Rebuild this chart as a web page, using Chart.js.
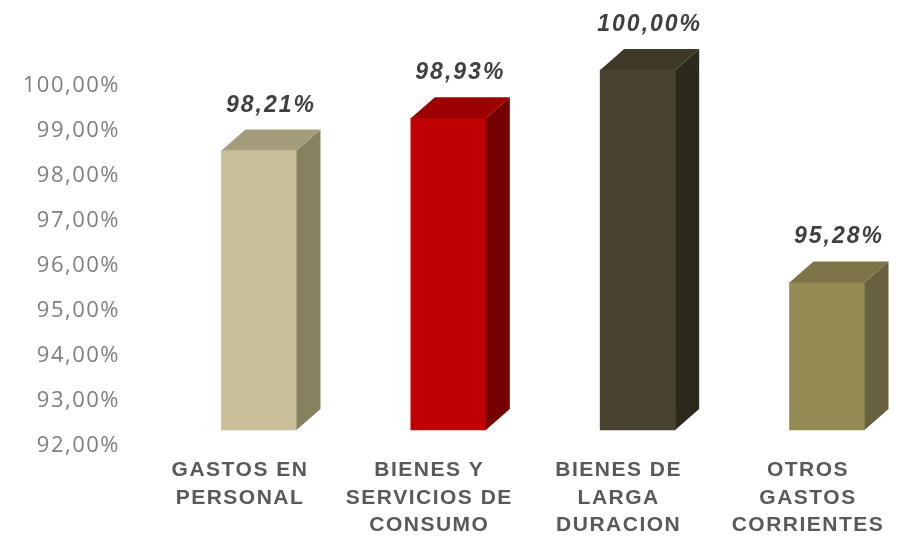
<!DOCTYPE html>
<html>
<head>
<meta charset="utf-8">
<script src="https://cdn.jsdelivr.net/npm/chart.js@4.4.1/dist/chart.umd.min.js"></script>
<style>
  html, body { margin: 0; padding: 0; background: #fff; }
</style>
</head>
<body>
<canvas id="grafico" width="898" height="537"></canvas>
<script>
// datos
const categorias = [
  ["GASTOS EN", "PERSONAL"],
  ["BIENES Y", "SERVICIOS DE", "CONSUMO"],
  ["BIENES DE", "LARGA", "DURACION"],
  ["OTROS", "GASTOS", "CORRIENTES"]
];
const ejecucion = [98.21, 98.93, 100.00, 95.28];
const etiquetasValor = ["98,21%", "98,93%", "100,00%", "95,28%"];
const ticksY = [92, 93, 94, 95, 96, 97, 98, 99, 100];

// colores: frente, techo, costado
const colorFrente = ["#c8bf9a", "#c00000", "#4a4331", "#958b55"];
const colorTecho = ["#a39d7c", "#9c0000", "#3d3827", "#7d7548"];
const colorCostado = ["#86815f", "#760000", "#2d2a1d", "#686140"];

const fondo = 24, alto3d = 21;

// texto algo espaciado, como en la imagen original
const espaciado = {
  id: "espaciado",
  beforeDraw(chart) { chart.ctx.letterSpacing = "1.5px"; },
  beforeDatasetsDraw(chart) { chart.ctx.letterSpacing = "0px"; }
};

// dibuja los costados y techos para el efecto 3D
const efecto3d = {
  id: "efecto3d",
  afterDatasetsDraw(chart) {
    const ctx = chart.ctx;
    const meta = chart.getDatasetMeta(0);
    meta.data.forEach((bar, i) => {
      const p = bar.getProps(["x", "y", "base", "width"], true);
      const izq = p.x - p.width / 2, der = p.x + p.width / 2;
      ctx.save();
      // costado
      ctx.fillStyle = colorCostado[i];
      ctx.beginPath();
      ctx.moveTo(der, p.y);
      ctx.lineTo(der + fondo, p.y - alto3d);
      ctx.lineTo(der + fondo, p.base - alto3d);
      ctx.lineTo(der, p.base);
      ctx.closePath();
      ctx.fill();
      // techo
      ctx.fillStyle = colorTecho[i];
      ctx.beginPath();
      ctx.moveTo(izq, p.y);
      ctx.lineTo(izq + fondo, p.y - alto3d);
      ctx.lineTo(der + fondo, p.y - alto3d);
      ctx.lineTo(der, p.y);
      ctx.closePath();
      ctx.fill();
      // etiqueta de valor
      ctx.letterSpacing = "2px";
      ctx.fillStyle = "#404040";
      ctx.font = "italic bold 23px 'Liberation Sans', Arial, sans-serif";
      ctx.textAlign = "center";
      ctx.textBaseline = "alphabetic";
      ctx.fillText(etiquetasValor[i], p.x + 12, p.y - 39);
      ctx.restore();
    });
  }
};

const data = {
  labels: categorias,
  datasets: [{
    label: "Ejecucion",
    data: ejecucion,
    backgroundColor: colorFrente,
    barThickness: 75,
    base: ticksY[0],
    clip: false
  }]
};

const config = {
  type: "bar",
  data,
  options: {
    responsive: false,
    animation: false,
    layout: { padding: { left: 18, right: 71, top: 70, bottom: 0 } },
    plugins: {
      legend: { display: false },
      tooltip: { enabled: false }
    },
    scales: {
      x: {
        offset: false,
        grid: { display: false },
        border: { display: false },
        afterFit: (s) => { s.height = 107; s.paddingLeft = 0; s.paddingRight = 0; },
        ticks: {
          color: "#595959",
          font: { family: "'Liberation Sans', Arial, sans-serif", size: 21, weight: "bold", lineHeight: 1.3 },
          padding: 19,
          labelOffset: -19,
          maxRotation: 0,
          autoSkip: false
        }
      },
      y: {
        min: 92,
        max: 100,
        afterBuildTicks: (scale) => {
          scale.ticks = ticksY.map(v => ({ value: v }));
        },
        afterFit: (s) => { s.width = 241; s.paddingTop = 0; s.paddingBottom = 0; },
        grid: { display: false },
        border: { display: false },
        ticks: {
          color: "#7f7f7f",
          font: { family: "'Open Sans', sans-serif", size: 22 },
          padding: 131,
          labelOffset: 16,
          callback: (v) => v.toFixed(2).replace(".", ",") + "%"
        }
      }
    }
  },
  plugins: [espaciado, efecto3d]
};

const grafico = new Chart(document.getElementById("grafico"), config);
</script>
</body>
</html>
